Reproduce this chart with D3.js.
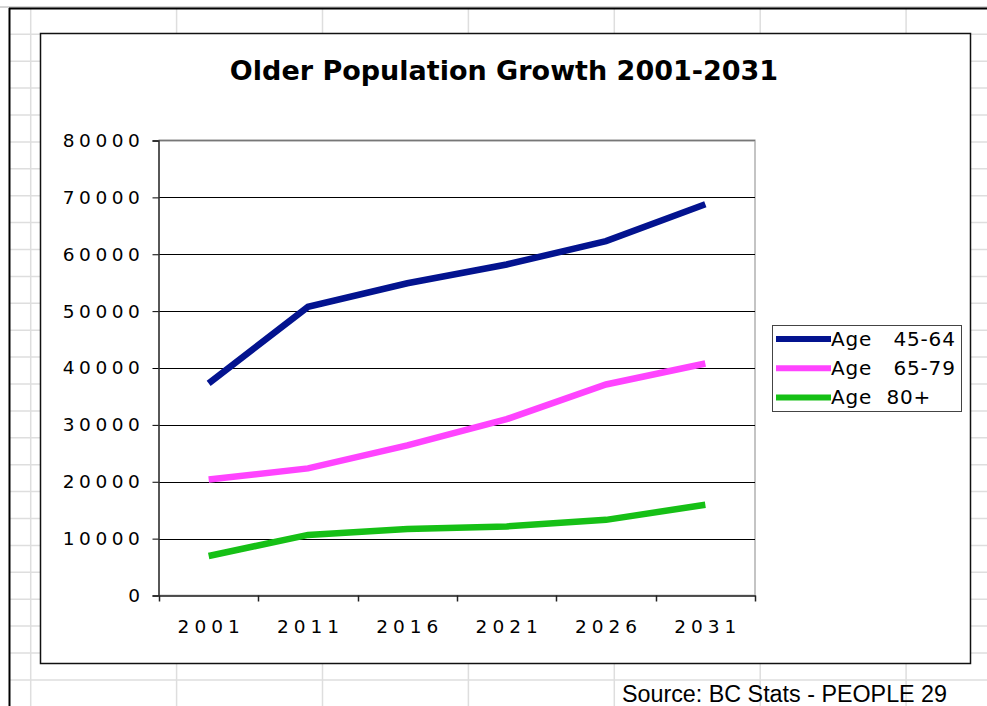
<!DOCTYPE html>
<html>
<head>
    <title></title>
    <style>
        body { margin: 0; background: #fff; }
        text { font-family: "DejaVu Sans", Verdana, sans-serif; }
    </style>
</head>
<body>
<script src="https://d3js.org/d3.v7.min.js"></script>
<script type="text/javascript">

    var years = ['2001', '2011', '2016', '2021', '2026', '2031'];
    var age4564 = [37300, 50750, 54900, 58200, 62300, 68800];
    var age6579 = [20400, 22350, 26400, 31000, 37100, 40800];
    var age80 = [6950, 10650, 11700, 12150, 13300, 15950];
    var seriesNames = ['Age   45-64', 'Age   65-79', 'Age  80+'];
    var seriesColors = ['#03138f', '#ff44ff', '#16c016'];
    var yTicks = [0, 10000, 20000, 30000, 40000, 50000, 60000, 70000, 80000];

    var width = 987, height = 706;

    var svg = d3.select('body')
                .append('svg')
                    .attr('width', width)
                    .attr('height', height);

    // spreadsheet cells behind the chart
    var rowLines = d3.range(34.3, height, 26.9);
    var colLines = d3.range(30.7, width, 145.9);
    svg.selectAll('.row')
        .data(rowLines)
        .enter()
        .append('line')
            .attr('x1', 10).attr('x2', width)
            .attr('y1', function(d) { return d; })
            .attr('y2', function(d) { return d; })
            .attr('stroke', '#dedede')
            .attr('stroke-width', 1.5);
    svg.selectAll('.col')
        .data(colLines)
        .enter()
        .append('line')
            .attr('y1', 9).attr('y2', height)
            .attr('x1', function(d) { return d; })
            .attr('x2', function(d) { return d; })
            .attr('stroke', '#dedede')
            .attr('stroke-width', 1.5);
    svg.append('line').attr('x1', 0).attr('x2', width).attr('y1', 7).attr('y2', 7)
        .attr('stroke', '#aaa').attr('stroke-width', 1);
    svg.append('line').attr('x1', 9).attr('x2', width).attr('y1', 8.5).attr('y2', 8.5)
        .attr('stroke', '#000').attr('stroke-width', 2);
    svg.append('line').attr('x1', 9.5).attr('x2', 9.5).attr('y1', 8).attr('y2', height)
        .attr('stroke', '#000').attr('stroke-width', 2);

    // chart box
    svg.append('rect')
        .attr('x', 40.5).attr('y', 33.5)
        .attr('width', 930).attr('height', 630)
        .attr('fill', '#fff')
        .attr('stroke', '#111')
        .attr('stroke-width', 1.5);

    svg.append('text')
        .attr('x', 504).attr('y', 80)
        .attr('text-anchor', 'middle')
        .attr('font-size', 27)
        .attr('font-weight', 'bold')
        .text('Older Population Growth 2001-2031');

    var x = d3.scaleBand()
                .domain(years)
                .range([159, 755]);

    var y = d3.scaleLinear()
                .domain([0, 80000])
                .range([595.5, 140.5]);

    // plot area border
    svg.append('rect')
        .attr('x', 159).attr('y', 140.5)
        .attr('width', 596).attr('height', 455)
        .attr('fill', '#fff')
        .attr('stroke', '#c4c4c4')
        .attr('stroke-width', 2);
    svg.append('line')
        .attr('x1', 159).attr('x2', 755).attr('y1', 140.5).attr('y2', 140.5)
        .attr('stroke', '#777').attr('stroke-width', 1.5);

    svg.append('g')
        .selectAll('line')
        .data(yTicks.slice(1, -1))
        .enter()
        .append('line')
            .attr('x1', 159).attr('x2', 755)
            .attr('y1', function(d) { return Math.round(y(d)) + 0.5; })
            .attr('y2', function(d) { return Math.round(y(d)) + 0.5; })
            .attr('stroke', '#000');

    var yAxis = d3.axisLeft(y)
                    .tickValues(yTicks)
                    .tickSize(6)
                    .tickPadding(8)
                    .tickFormat(function(d) { return d; });

    var gy = svg.append('g')
                .attr('transform', 'translate(158.5, 0)')
                .call(yAxis);
    gy.select('.domain').attr('stroke', '#333').attr('stroke-width', 1.5);
    gy.selectAll('text')
        .attr('font-family', '"DejaVu Sans", Verdana, sans-serif')
        .attr('font-size', 18.5)
        .attr('letter-spacing', 4.6)
        .attr('fill', '#000');

    var xAxis = d3.axisBottom(x)
                    .tickSize(0)
                    .tickPadding(24);

    var gx = svg.append('g')
                .attr('transform', 'translate(0, 595.5)')
                .call(xAxis);
    gx.select('.domain').attr('stroke', '#222').attr('stroke-width', 1.5);
    gx.selectAll('text')
        .attr('font-family', '"DejaVu Sans", Verdana, sans-serif')
        .attr('font-size', 18.5)
        .attr('letter-spacing', 5)
        .attr('dx', 2.5)
        .attr('fill', '#000');

    // category boundary ticks
    var bounds = years.map(function(d) { return x(d); }).concat([x.range()[1]]);
    gx.selectAll('.bound')
        .data(bounds)
        .enter()
        .append('line')
            .attr('x1', function(d) { return Math.round(d) + 0.5; })
            .attr('x2', function(d) { return Math.round(d) + 0.5; })
            .attr('y1', 0).attr('y2', 6)
            .attr('stroke', '#222')
            .attr('stroke-width', 1.5);

    var series = [age4564, age6579, age80];
    var line = d3.line()
                    .x(function(d, i) { return x(years[i]) + x.bandwidth() / 2; })
                    .y(function(d) { return y(d); });

    svg.append('g')
        .selectAll('path')
        .data(series)
        .enter()
        .append('path')
            .attr('d', line)
            .attr('fill', 'none')
            .attr('stroke', function(d, i) { return seriesColors[i]; })
            .attr('stroke-width', 6.5);

    // legend
    var legend = svg.append('g');
    legend.append('rect')
        .attr('x', 772.5).attr('y', 325.5)
        .attr('width', 189).attr('height', 86)
        .attr('fill', '#fff')
        .attr('stroke', '#444')
        .attr('stroke-width', 1);

    var items = legend.selectAll('.item')
                    .data(seriesNames)
                    .enter()
                    .append('g')
                        .attr('transform', function(d, i) { return 'translate(0,' + (339 + i * 29.2) + ')'; });
    items.append('line')
        .attr('x1', 776).attr('x2', 831)
        .attr('y1', 0).attr('y2', 0)
        .attr('stroke', function(d, i) { return seriesColors[i]; })
        .attr('stroke-width', 6);
    items.append('text')
        .attr('x', 831).attr('y', 7)
        .attr('font-size', 20)
        .attr('letter-spacing', 0.8)
        .style('white-space', 'pre')
        .text(function(d) { return d; });

    svg.append('text')
        .attr('x', 622).attr('y', 702)
        .style('font-family', '"Liberation Sans", Arial, sans-serif')
        .attr('font-size', 23.3)
        .text('Source: BC Stats - PEOPLE 29');

</script>
</body>
</html>
